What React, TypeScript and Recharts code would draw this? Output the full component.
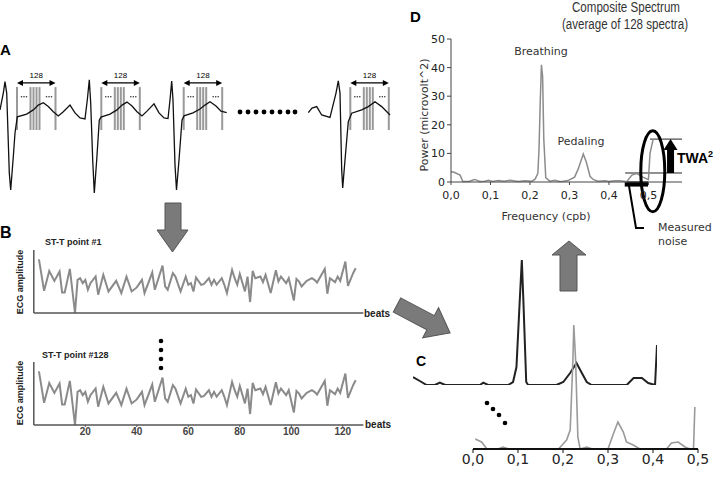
import {
  LineChart,
  Line,
  XAxis,
  YAxis,
  ReferenceLine,
  ReferenceDot,
  ReferenceArea,
} from 'recharts';

// ---- data ----
// schematic ECG (t in ms, v in mV), gap between beat 3 and beat 4
const ecgTrace = [
  { t: 0, v: 0.17 }, { t: 33, v: 0.73 }, { t: 50, v: 1.11 }, { t: 67, v: 0.73 },
  { t: 93, v: -1.93 }, { t: 107, v: -2.5 }, { t: 133, v: -1.39 }, { t: 150, v: -0.6 },
  { t: 173, v: -0.06 }, { t: 267, v: 0.03 }, { t: 333, v: 0.17 }, { t: 383, v: 0.33 },
  { t: 433, v: 0.41 }, { t: 483, v: 0.28 }, { t: 533, v: 0.11 }, { t: 583, v: -0.03 },
  { t: 633, v: 0.11 }, { t: 700, v: 0.33 }, { t: 750, v: 0.07 }, { t: 800, v: -0.1 },
  { t: 850, v: -0.13 }, { t: 873, v: 0.5 }, { t: 893, v: 1.17 }, { t: 907, v: 0.4 },
  { t: 927, v: -1.5 }, { t: 943, v: -2.6 }, { t: 967, v: -1.5 }, { t: 993, v: -0.17 },
  { t: 1010, v: -0.07 }, { t: 1100, v: 0.03 }, { t: 1170, v: 0.17 }, { t: 1220, v: 0.33 },
  { t: 1270, v: 0.43 }, { t: 1320, v: 0.3 }, { t: 1370, v: 0.11 }, { t: 1420, v: -0.03 },
  { t: 1470, v: 0.13 }, { t: 1540, v: 0.37 }, { t: 1590, v: 0.07 }, { t: 1640, v: -0.1 },
  { t: 1680, v: -0.12 }, { t: 1700, v: 0.5 }, { t: 1717, v: 1.13 }, { t: 1730, v: 0.5 },
  { t: 1750, v: -1.67 }, { t: 1765, v: -2.5 }, { t: 1790, v: -1.5 }, { t: 1820, v: -0.17 },
  { t: 1840, v: -0.03 }, { t: 1930, v: 0.07 }, { t: 2000, v: 0.2 }, { t: 2050, v: 0.33 },
  { t: 2100, v: 0.44 }, { t: 2160, v: 0.3 }, { t: 2210, v: 0.13 }, { t: 2267, v: 0.08 },
  { t: 2700, v: null },
  { t: 3083, v: 0.08 }, { t: 3120, v: 0.23 }, { t: 3167, v: 0.28 }, { t: 3217, v: 0 },
  { t: 3300, v: -0.08 }, { t: 3360, v: 0.73 }, { t: 3383, v: 1.14 }, { t: 3400, v: 0.73 },
  { t: 3417, v: -1.83 }, { t: 3427, v: -2.43 }, { t: 3450, v: -1.5 }, { t: 3483, v: -0.22 },
  { t: 3517, v: 0.06 }, { t: 3617, v: 0.17 }, { t: 3683, v: 0.28 }, { t: 3750, v: 0.44 },
  { t: 3817, v: 0.28 }, { t: 3900, v: 0 },
];
const rPeaks = [50, 893, 1717, 3383];
const sampleOffsets = [120, 255, 285, 315, 345, 505];

// ST-T point amplitude per beat (same look for point #1 and #128)
const stBeats = [
  2, 4, 6, 8, 10, 11, 12, 14, 16, 17, 18, 19, 20, 21, 22, 24, 25, 27, 29, 32, 34, 36, 38, 40,
  42, 43, 46, 47, 50, 51, 52, 54, 55, 57, 59, 60, 61, 62, 63, 65, 66, 68, 69, 70, 71, 73, 74,
  75, 77, 78, 79, 80, 82, 83, 84, 85, 86, 88, 89, 90, 92, 94, 95, 96, 98, 99, 101, 102, 103,
  104, 106, 108, 109, 110, 113, 114, 115, 117, 118, 119, 121, 122, 124, 125,
];
const stAmp = [
  4.26, 1.76, 3.34, 2.55, 3.29, 1.63, 1.63, 3.5, 0, 2.63, 2.76, 2.37, 2.63, 1.84, 2.37, 2.9,
  1.45, 3.03, 1.71, 2.55, 1.58, 2.89, 1.71, 2.03, 2.63, 1.58, 3.21, 1.84, 3.76, 2.11, 1.84,
  3.16, 2.89, 1.71, 2.89, 2.24, 2.37, 1.71, 2.82, 2.24, 2.29, 2.76, 2.24, 2.63, 2.24, 2.76,
  2.24, 1.58, 3.42, 2.76, 2.24, 3.1, 1.71, 2.89, 0.87, 3.34, 2.76, 2.89, 2.45, 3.03, 1.58,
  3.39, 2.5, 2.89, 2.37, 2.76, 1.0, 2.71, 2.5, 2.11, 2.55, 2.76, 2.63, 2.42, 3.5, 1.53, 2.76,
  2.45, 2.89, 2.55, 4.08, 2.16, 3.16, 3.55,
];
const beatTicks = [20, 40, 60, 80, 100, 120];
const stData = stBeats.map((beat, i) => ({ beat, amp: stAmp[i] }));

// panel C: one ST-T point spectrum (dark) and the last one (grey)
const cFirstFreq = [
  0, 0.014, 0.028, 0.045, 0.055, 0.066, 0.1, 0.137, 0.144, 0.154, 0.195, 0.205, 0.212, 0.219,
  0.223, 0.226, 0.232, 0.236, 0.294, 0.308, 0.322, 0.335, 0.346, 0.356, 0.366, 0.438, 0.452,
  0.469, 0.482, 0.496, 0.5,
];
const cFirstPower = [
  8, 4, 0, 0, 2.3, 0, 0, 0, 2.3, 0, 0, 3, 18, 87, 125, 87, 3, 0, 0, 3, 12, 22, 12, 3, 0, 0, 7,
  7, 2, 0, 40,
];
const cLastFreq = [
  0.005, 0.019, 0.031, 0.055, 0.067, 0.08, 0.19, 0.208, 0.216, 0.222, 0.224, 0.228, 0.233,
  0.238, 0.253, 0.265, 0.3, 0.311, 0.322, 0.334, 0.341, 0.356, 0.371, 0.43, 0.441, 0.456, 0.471,
  0.482, 0.49, 0.493,
];
const cLastPower = [
  10, 7, 0, 0, 2, 0, 0, 9, 19, 89, 124, 89, 12, 0, 2, 0, 0, 14, 27, 17, 7, 4, 0, 0, 6, 7, 2, 0,
  0, 42,
];
const freqTicks = [0, 0.1, 0.2, 0.3, 0.4, 0.5];
const cFirst = cFirstFreq.map((f, i) => ({ f, p: cFirstPower[i] }));
const cLast = cLastFreq.map((f, i) => ({ f, p: cLastPower[i] }));

// panel D: composite spectrum (microvolt^2)
const dFreq = [
  0, 0.008, 0.023, 0.03, 0.045, 0.06, 0.073, 0.085, 0.095, 0.105, 0.12, 0.135, 0.15, 0.17,
  0.187, 0.205, 0.213, 0.22, 0.223, 0.226, 0.229, 0.232, 0.235, 0.24, 0.25, 0.263, 0.275, 0.284,
  0.296, 0.313, 0.322, 0.335, 0.343, 0.352, 0.36, 0.372, 0.39, 0.4, 0.415, 0.428, 0.445, 0.458,
  0.47, 0.486, 0.5, 0.504, 0.512,
];
const dPower = [
  3.6, 3.4, 2.4, 0.2, 0.2, 0.9, 0.2, 0.3, 0.6, 0.2, 0.5, 0.3, 0.6, 0.2, 0.4, 0.3, 1.0, 3, 12,
  28, 41, 37, 15, 1.5, 0.3, 0.6, 0.2, 0.3, 0.5, 1.7, 4.5, 9.8, 6.8, 2, 0.9, 0.3, 0.4, 0.2, 0.4,
  0.4, 0.1, 2.4, 3.0, 1.7, 0.8, 10, 15,
];
const powerTicks = [0, 10, 20, 30, 40, 50];
const dData = dFreq.map((f, i) => ({ f, p: dPower[i] }));
const noiseLevel = 3.15;
const twaLevel = 15;

const SANS = '"Liberation Sans", Arial, sans-serif';
const DEJA = '"DejaVu Sans", Verdana, sans-serif';
const comma = (v: number) => v.toFixed(1).replace('.', ',');

const SpanArrow = (p: any) => {
  const { x1, y1, x2 } = p;
  return (
    <g>
      <line x1={x1 + 3} y1={y1} x2={x2 - 3} y2={y1} stroke="#000" strokeWidth={1.2} />
      <polygon points={`${x1},${y1} ${x1 + 6},${y1 - 3} ${x1 + 6},${y1 + 3}`} fill="#000" />
      <polygon points={`${x2},${y1} ${x2 - 6},${y1 - 3} ${x2 - 6},${y1 + 3}`} fill="#000" />
      <text x={(x1 + x2) / 2} y={y1 - 5} textAnchor="middle" fontSize={8} fontFamily={SANS}>
        128
      </text>
    </g>
  );
};

const Ellipsis3 = (p: any) => (
  <g fill="#333">
    {[-2.5, 0, 2.5].map((d) => (
      <circle key={d} cx={p.cx + d} cy={p.cy} r={0.8} />
    ))}
  </g>
);

const TwaArrow = (p: any) => {
  const { x1, y1, y2 } = p;
  const top = Math.min(y1, y2);
  const bot = Math.max(y1, y2);
  return (
    <g fill="#000">
      <rect x={x1 - 3.5} y={top + 10} width={7} height={bot - top - 10} />
      <polygon points={`${x1},${top} ${x1 - 7},${top + 11} ${x1 + 7},${top + 11}`} />
    </g>
  );
};

const Oval = (p: any) => (
  <ellipse cx={p.cx} cy={p.cy} rx={12} ry={40.5} fill="none" stroke="#000" strokeWidth={3} />
);

const App = () => {
  return (
    <div
      style={{
        position: 'fixed',
        left: 0,
        top: 0,
        width: 720,
        height: 486,
        background: '#fff',
        overflow: 'hidden',
      }}
    >
      {/* A: ECG beats with ST-T sampling points */}
      <div style={{ position: 'absolute', left: 0, top: 60 }}>
        <LineChart width={400} height={140} data={ecgTrace} margin={{ top: 0, right: 0, bottom: 0, left: 0 }}>
          <XAxis type="number" dataKey="t" domain={[0, 4000]} hide />
          <YAxis type="number" domain={[-2.833, 1.833]} hide />
          {rPeaks.map((r) =>
            sampleOffsets.map((o) => (
              <ReferenceLine
                key={`${r}-${o}`}
                segment={[{ x: r + o, y: 0.93 }, { x: r + o, y: -0.5 }]}
                stroke="#999"
                strokeWidth={2}
              />
            ))
          )}
          {rPeaks.map((r) => (
            <ReferenceLine
              key={`arr-${r}`}
              segment={[{ x: r + sampleOffsets[0], y: 1.07 }, { x: r + sampleOffsets[5], y: 1.07 }]}
              shape={SpanArrow}
            />
          ))}
          {rPeaks.map((r) => (
            <ReferenceDot key={`d1-${r}`} x={r + 190} y={0.61} shape={Ellipsis3} />
          ))}
          {rPeaks.map((r) => (
            <ReferenceDot key={`d2-${r}`} x={r + 440} y={0.61} shape={Ellipsis3} />
          ))}
          <Line type="linear" dataKey="v" stroke="#111" strokeWidth={1.3} dot={false} isAnimationActive={false} />
        </LineChart>
      </div>

      {/* B: ST-T point #1 */}
      <div style={{ position: 'absolute', left: 0, top: 245 }}>
        <LineChart width={370} height={78} data={stData} margin={{ top: 5, right: 6.6, bottom: 0, left: 0 }}>
          <XAxis
            type="number"
            dataKey="beat"
            domain={[0, 128]}
            ticks={beatTicks}
            tick={false}
            tickSize={3}
            height={10}
            axisLine={{ stroke: '#555', strokeWidth: 1.5 }}
            tickLine={{ stroke: '#555' }}
          />
          <YAxis
            type="number"
            domain={[0, 5]}
            ticks={[0, 1, 2, 3, 4, 5]}
            tick={false}
            tickSize={4}
            width={33.8}
            axisLine={{ stroke: '#555', strokeWidth: 1.5 }}
            tickLine={{ stroke: '#555' }}
          />
          <Line type="linear" dataKey="amp" stroke="#8a8a8a" strokeWidth={2} dot={false} isAnimationActive={false} />
        </LineChart>
      </div>

      {/* B: ST-T point #128 */}
      <div style={{ position: 'absolute', left: 0, top: 357 }}>
        <LineChart width={370} height={88} data={stData} margin={{ top: 5, right: 6.6, bottom: 0, left: 0 }}>
          <XAxis
            type="number"
            dataKey="beat"
            domain={[0, 128]}
            ticks={beatTicks}
            tickSize={2}
            tickMargin={1}
            height={20}
            tick={{ fill: '#444', fontSize: 10, fontWeight: 'bold', fontFamily: SANS }}
            axisLine={{ stroke: '#555', strokeWidth: 1.5 }}
            tickLine={{ stroke: '#555' }}
          />
          <YAxis
            type="number"
            domain={[0, 5]}
            ticks={[0, 1, 2, 3, 4, 5]}
            tick={false}
            tickSize={4}
            width={33.8}
            axisLine={{ stroke: '#555', strokeWidth: 1.5 }}
            tickLine={{ stroke: '#555' }}
          />
          <Line type="linear" dataKey="amp" stroke="#8a8a8a" strokeWidth={2} dot={false} isAnimationActive={false} />
        </LineChart>
      </div>

      {/* C: first spectrum (set back) */}
      <div style={{ position: 'absolute', left: 413, top: 255 }}>
        <LineChart width={244} height={130} data={cFirst} margin={{ top: 0, right: 0, bottom: 0, left: 0 }}>
          <XAxis type="number" dataKey="f" domain={[0, 0.5]} hide />
          <YAxis type="number" domain={[0, 130]} hide />
          <Line type="linear" dataKey="p" stroke="#222" strokeWidth={2} dot={false} isAnimationActive={false} />
        </LineChart>
      </div>

      {/* C: last spectrum with frequency axis */}
      <div style={{ position: 'absolute', left: 458, top: 319 }}>
        <LineChart width={255} height={150} data={cLast} margin={{ top: 0, right: 15, bottom: 0, left: 15 }}>
          <XAxis
            type="number"
            dataKey="f"
            domain={[0, 0.5]}
            ticks={freqTicks}
            tickFormatter={comma}
            tickSize={4}
            tickMargin={1}
            height={20}
            tick={{ fill: '#222', fontSize: 14, fontFamily: DEJA }}
            axisLine={{ stroke: '#111', strokeWidth: 2 }}
            tickLine={{ stroke: '#111' }}
          />
          <YAxis type="number" domain={[0, 130]} hide />
          <Line type="linear" dataKey="p" stroke="#9a9a9a" strokeWidth={1.6} dot={false} isAnimationActive={false} />
        </LineChart>
      </div>

      {/* D: composite spectrum */}
      <div style={{ position: 'absolute', left: 425, top: 32 }}>
        <LineChart width={259} height={185} data={dData} margin={{ top: 7, right: 2, bottom: 15, left: 0 }}>
          <XAxis
            type="number"
            dataKey="f"
            domain={[0, 0.585]}
            ticks={freqTicks}
            tickFormatter={comma}
            tickSize={3}
            tickMargin={6}
            height={20}
            tick={{ fill: '#222', fontSize: 11, fontFamily: DEJA }}
            axisLine={{ stroke: '#444' }}
            tickLine={{ stroke: '#444' }}
          />
          <YAxis
            type="number"
            domain={[0, 50]}
            ticks={powerTicks}
            tickSize={4}
            tickMargin={2}
            width={26}
            tick={{ fill: '#222', fontSize: 11, fontFamily: DEJA }}
            axisLine={{ stroke: '#444' }}
            tickLine={{ stroke: '#444' }}
          />
          <ReferenceLine segment={[{ x: 0.441, y: noiseLevel }, { x: 0.585, y: noiseLevel }]} stroke="#222" />
          <ReferenceLine segment={[{ x: 0.504, y: twaLevel }, { x: 0.585, y: twaLevel }]} stroke="#222" />
          <ReferenceArea x1={0.44} x2={0.499} y1={-1.6} y2={0.2} fill="#000" fillOpacity={1} ifOverflow="visible" />
          <Line type="linear" dataKey="p" stroke="#8c8c8c" strokeWidth={1.5} dot={false} isAnimationActive={false} />
          <ReferenceLine segment={[{ x: 0.556, y: noiseLevel }, { x: 0.556, y: twaLevel }]} shape={TwaArrow} />
          <ReferenceDot x={0.511} y={3.75} shape={Oval} ifOverflow="visible" />
        </LineChart>
      </div>

      {/* labels, block arrows and ellipsis dots */}
      <svg width={720} height={486} style={{ position: 'absolute', left: 0, top: 0, pointerEvents: 'none' }}>
        <g fontFamily={SANS} fontWeight="bold" fill="#000">
          <text x={0} y={55} fontSize={15}>A</text>
          <text x={0} y={238} fontSize={16}>B</text>
          <text x={416} y={366} fontSize={14}>C</text>
          <text x={410} y={22} fontSize={15}>D</text>
        </g>

        <g fontFamily={SANS} fontWeight="bold" fontSize={9} fill="#222">
          <text x={45} y={245}>ST-T point #1</text>
          <text x={42} y={358}>ST-T point #128</text>
          <text transform="translate(23,282) rotate(-90)" textAnchor="middle">ECG amplitude</text>
          <text transform="translate(23,393) rotate(-90)" textAnchor="middle">ECG amplitude</text>
          <text x={364} y={317} fontSize={10}>beats</text>
          <text x={365} y={428} fontSize={10}>beats</text>
        </g>

        {/* panel D texts */}
        <g fontFamily={SANS} fontSize={14} fill="#333" textAnchor="middle">
          <text x={626} y={12} textLength={108} lengthAdjust="spacingAndGlyphs">Composite Spectrum</text>
          <text x={625} y={29} textLength={126} lengthAdjust="spacingAndGlyphs">(average of 128 spectra)</text>
        </g>
        <g fontFamily={DEJA} fontSize={11} fill="#333">
          <text transform="translate(428,115) rotate(-90)" textAnchor="middle">Power (microvolt^2)</text>
          <text x={546} y={220} textAnchor="middle">Frequency (cpb)</text>
          <text x={541} y={55} textAnchor="middle">Breathing</text>
          <text x={581} y={145} textAnchor="middle">Pedaling</text>
          <text x={658} y={231}>Measured</text>
          <text x={658} y={245}>noise</text>
        </g>
        <text x={677} y={163} fontFamily={SANS} fontWeight="bold" fontSize={14} fill="#000">
          TWA<tspan fontSize={9} dy={-6}>2</tspan>
        </text>
        <polyline points="629,186 636,228 644,228" fill="none" stroke="#000" strokeWidth={2} />

        {/* block arrows */}
        <g fill="#7a7a7a" stroke="#555" strokeWidth={1}>
          <polygon points="165,203 181,203 181,230 188,230 172.5,252 157,230 165,230" />
          <polygon points="569,241 586,255 577,255 577,291 560,291 560,255 552,255" />
          <polygon
            transform="translate(397,305) rotate(27.8)"
            points="0,-8 38,-8 38,-17 60,0 38,17 38,8 0,8"
          />
        </g>

        {/* ellipsis dots */}
        <g fill="#000">
          {[240, 248, 256, 264, 272, 280, 288, 295].map((x) => (
            <circle key={x} cx={x} cy={112} r={2.4} />
          ))}
          {[341, 350, 359, 368].map((y) => (
            <circle key={y} cx={161} cy={y} r={2.3} />
          ))}
          <circle cx={487} cy={403} r={2.3} />
          <circle cx={493} cy={409} r={2.3} />
          <circle cx={499} cy={415} r={2.3} />
          <circle cx={505} cy={423} r={2.3} />
        </g>
      </svg>
    </div>
  );
};

export default App;
